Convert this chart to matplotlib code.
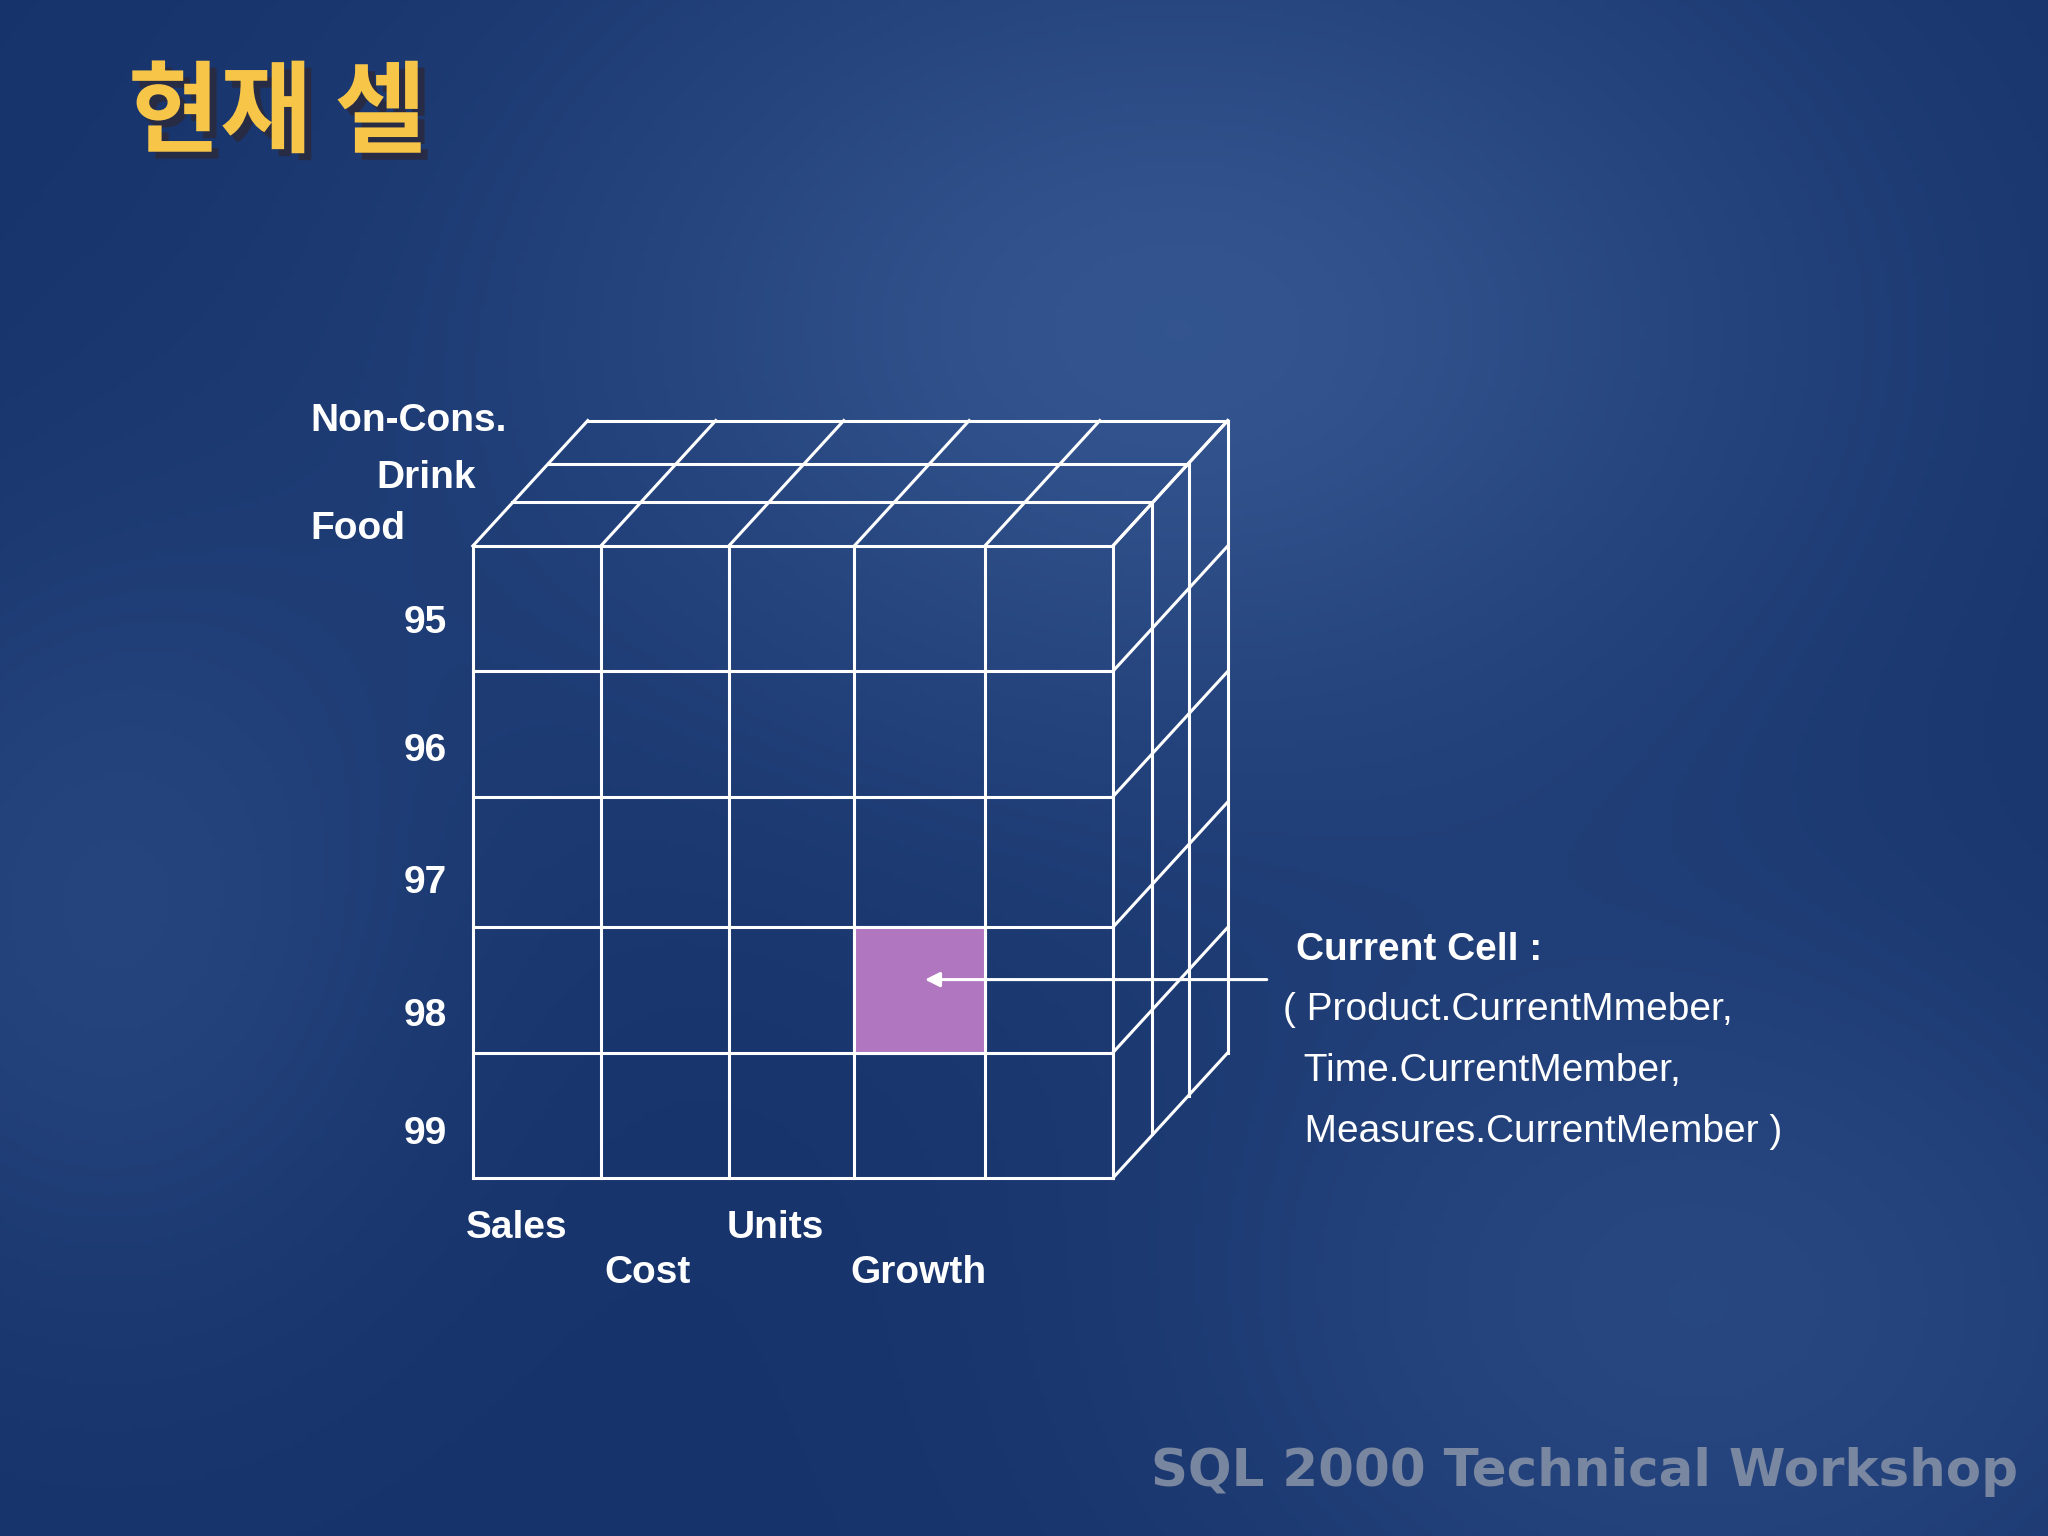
import numpy as np
import matplotlib.pyplot as plt
from matplotlib import patheffects as pe

# -----------------------------
# DATA
# -----------------------------
title = "현재 셀"
row_labels = ["95", "96", "97", "98", "99"]
col_labels = ["Sales", "Cost", "Units", "Growth"]
depth_labels = ["Food", "Drink", "Non-Cons."]
current_row, current_col = 3, 2
callout = ["Current Cell :", "( Product.CurrentMmeber,", "  Time.CurrentMember,", "  Measures.CurrentMember )"]
footer = "SQL 2000 Technical Workshop"

# grid geometry in slide pixel units (1568 x 1176 slide)
W, H = 1568, 1176
col_x = [362, 460, 558, 654, 754, 852]
row_y = [418, 514, 610, 710, 806, 902]
row_label_y = [477, 575, 676, 778, 868]
depth_dx = [0, 30, 58, 88]
depth_dy = [0, -34, -63, -96]

NARROW = ["Liberation Sans Narrow", "Liberation Sans", "DejaVu Sans"]

fig = plt.figure(figsize=(20.48, 15.36), dpi=100)
ax = fig.add_axes([0, 0, 1, 1])
ax.set_xlim(0, W)
ax.set_ylim(H, 0)
ax.axis("off")

# background
yy, xx = np.mgrid[0:H:4, 0:W:4]
base = np.zeros(xx.shape + (3,))
dark = np.array([0.09, 0.20, 0.42])
light = np.array([0.20, 0.33, 0.56])
g = np.exp(-(((xx - 900) / 500.0) ** 2 + ((yy - 250) / 350.0) ** 2))
g += 0.5 * np.exp(-(((xx - 80) / 250.0) ** 2 + ((yy - 700) / 300.0) ** 2))
g += 0.6 * np.exp(-(((xx - 1300) / 400.0) ** 2 + ((yy - 1000) / 300.0) ** 2))
g = np.clip(g, 0, 1)
for i in range(3):
    base[..., i] = dark[i] + (light[i] - dark[i]) * g
ax.imshow(base, extent=[0, W, H, 0], zorder=0, aspect="auto")

lw = 2.2
lc = "white"

# front face
for x in col_x:
    ax.plot([x, x], [row_y[0], row_y[-1]], color=lc, lw=lw, zorder=3)
for y in row_y:
    ax.plot([col_x[0], col_x[-1]], [y, y], color=lc, lw=lw, zorder=3)

# top face
for x in col_x:
    ax.plot([x, x + depth_dx[-1]], [row_y[0], row_y[0] + depth_dy[-1]], color=lc, lw=lw, zorder=3)
for dx, dy in zip(depth_dx[1:], depth_dy[1:]):
    ax.plot([col_x[0] + dx, col_x[-1] + dx], [row_y[0] + dy, row_y[0] + dy], color=lc, lw=lw, zorder=3)

# right face
for y in row_y:
    ax.plot([col_x[-1], col_x[-1] + depth_dx[-1]], [y, y + depth_dy[-1]], color=lc, lw=lw, zorder=3)
for dx, dy in zip(depth_dx[1:], depth_dy[1:]):
    ax.plot([col_x[-1] + dx, col_x[-1] + dx], [row_y[0] + dy, row_y[-1] + dy], color=lc, lw=lw, zorder=3)

# current cell
ax.add_patch(plt.Rectangle((col_x[current_col + 1], row_y[current_row]),
                           col_x[current_col + 2] - col_x[current_col + 1],
                           row_y[current_row + 1] - row_y[current_row],
                           facecolor="#b077c0", edgecolor="white", lw=lw, zorder=4))
ax.annotate("", xy=(706, 750), xytext=(972, 750),
            arrowprops=dict(arrowstyle="-|>", color="white", lw=2.2, mutation_scale=22), zorder=5)

# labels
lab = dict(color="white", fontsize=28, fontweight="bold", family=NARROW, zorder=6)
for y, t in zip(row_label_y, row_labels):
    ax.text(342, y, t, ha="right", va="center", **lab)
col_pos = [(357, 940), (463, 975), (556, 940), (651, 975)]
for (x, y), t in zip(col_pos, col_labels):
    ax.text(x, y, t, ha="left", va="center", **lab)
depth_pos = [(238, 405), (288, 366), (238, 322)]
for (x, y), t in zip(depth_pos, depth_labels):
    ax.text(x, y, t, ha="left", va="center", **lab)

ax.text(992, 727, callout[0], ha="left", va="center", **lab)
for i, t in enumerate(callout[1:]):
    ax.text(982, 773 + 47 * i, t, ha="left", va="center", color="white",
            fontsize=28, family=NARROW, zorder=6)

# title
ax.text(98, 88, title, ha="left", va="center", color="#f7c548", fontsize=72, fontweight="bold",
        family=["Noto Sans CJK KR", "DejaVu Sans"], zorder=6,
        path_effects=[pe.withSimplePatchShadow(offset=(5, -5), shadow_rgbFace="#2a2a40", alpha=0.9)])

# footer
ax.text(1545, 1127, footer, ha="right", va="center", color="#8a94a8", fontsize=37,
        fontweight="bold", family=["DejaVu Sans"], alpha=0.85, zorder=6)

fig.savefig("out.png", dpi=100)
